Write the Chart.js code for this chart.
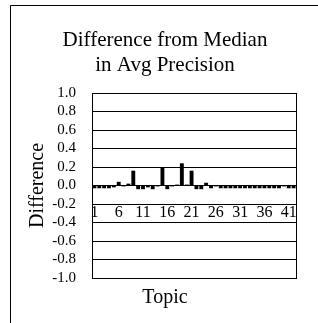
<!DOCTYPE html>
<html>
<head>
<meta charset="utf-8">
<script src="https://cdn.jsdelivr.net/npm/chart.js@4.4.1/dist/chart.umd.min.js"></script>
<style>
  html, body { margin: 0; padding: 0; background: #fff; }
  #wrap { width: 318px; height: 323px; }
</style>
</head>
<body>
<div id="wrap"><canvas id="myCanvas" width="318" height="323"></canvas></div>
<script>
// topics on the x axis
var topics = ['1','2','3','4','5','6','7','8','9','10','11','12','13','14',
              '15','16','17','18','19','20','21','22','23','24','25','26','27','28',
              '29','30','31','32','33','34','35','36','37','38','39','40','41','42'];
// difference from median in average precision, per topic
var diffs = [-0.03,-0.03,-0.03,-0.03,-0.02, 0.04,-0.01, 0.02, 0.16,-0.04,
             -0.04,-0.02,-0.04,-0.01, 0.20,-0.04,-0.01, 0.01, 0.24, 0.01,
              0.16,-0.04,-0.04, 0.03,-0.03,-0.01,-0.03,-0.03,-0.03,-0.03,
             -0.03,-0.03,-0.03,-0.03,-0.03,-0.03,-0.03,-0.03,-0.03,-0.01,
             -0.03,-0.03];
var titleLines = ['Difference from Median', 'in Avg Precision'];
var yMin = -1.0, yMax = 1.0, yStep = 0.2;

var serif = 'Liberation Serif';

// left and top lines of the outer frame
var framePlugin = {
    id: 'frame',
    beforeDraw: function (chart) {
        var c = chart.ctx;
        c.save();
        c.strokeStyle = '#000';
        c.lineWidth = 1;
        c.beginPath();
        c.moveTo(10.5, 323);
        c.lineTo(10.5, 5.5);
        c.lineTo(318, 5.5);
        c.stroke();
        c.restore();
    }
};

var ctx = document.getElementById('myCanvas');
var barGraph = new Chart(ctx, {
    type: 'bar',
    data: {
        labels: topics,
        datasets: [{
            label: 'Difference',
            data: diffs,
            backgroundColor: '#000',
            borderWidth: 0,
            barPercentage: 0.8,
            categoryPercentage: 1.0
        }]
    },
    options: {
        responsive: false,
        animation: false,
        layout: { padding: { left: 20, right: 8, top: 5, bottom: 13 } },
        plugins: {
            legend: { display: false },
            tooltip: { enabled: false },
            title: {
                display: true,
                text: titleLines,
                color: '#000',
                font: { family: serif, size: 21, weight: 'normal', lineHeight: '25px' },
                padding: { top: 23, bottom: 15 }
            },
            subtitle: {
                display: true,
                position: 'bottom',
                text: 'Topic',
                color: '#000',
                font: { family: serif, size: 20, weight: 'normal', lineHeight: 1.2 },
                padding: { top: 8, bottom: 0 }
            }
        },
        scales: {
            x: {
                position: { y: 0 },
                grid: { display: false },
                border: { display: true, color: '#000', width: 1 },
                ticks: {
                    autoSkip: false,
                    maxRotation: 0,
                    padding: 10,
                    color: '#000',
                    font: { family: serif, size: 16 },
                    callback: function (val, index) {
                        return index % 5 === 0 ? this.getLabelForValue(val) : '';
                    }
                },
                afterFit: function (scale) { scale.height = 0; }
            },
            y: {
                min: yMin,
                max: yMax,
                grid: { color: '#000', drawTicks: false },
                border: { display: true, color: '#000' },
                ticks: {
                    stepSize: yStep,
                    autoSkip: false,
                    padding: 16,
                    color: '#000',
                    font: { family: serif, size: 15 },
                    callback: function (v) { return v.toFixed(1); }
                },
                title: {
                    display: true,
                    text: 'Difference',
                    color: '#000',
                    font: { family: serif, size: 20 },
                    padding: { top: 6, bottom: 0 }
                },
                afterFit: function (scale) { scale.width = 72; }
            },
            y2: {
                position: 'right',
                min: yMin,
                max: yMax,
                grid: { display: false },
                border: { display: true, color: '#000' },
                ticks: { display: false },
                afterFit: function (scale) { scale.width = 14; }
            }
        }
    },
    plugins: [framePlugin]
});
</script>
</body>
</html>
